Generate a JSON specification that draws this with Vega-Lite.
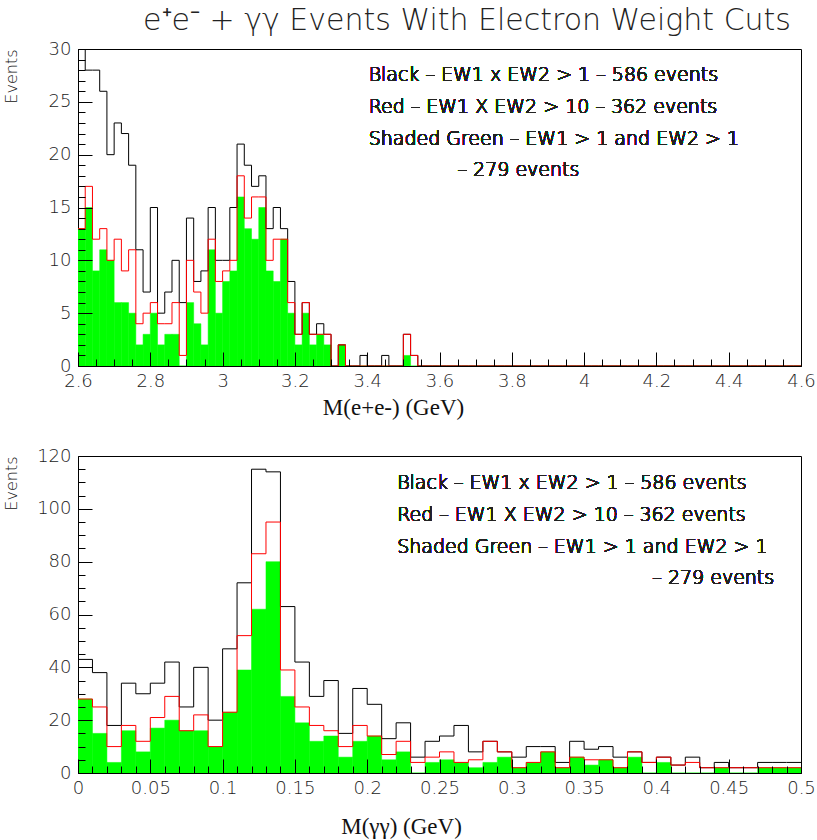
{
  "$schema": "https://vega.github.io/schema/vega-lite/v6.json",
  "background": "white",
  "padding": {"left": 2, "top": 5, "right": 0, "bottom": 0},
  "title": {"text": "e⁺e⁻ + γγ Events With Electron Weight Cuts", "font": "DejaVu Sans", "fontWeight": 200, "fontSize": 30, "color": "#222", "anchor": "end", "frame": "group", "dx": -10, "offset": 4},
  "config": {
    "view": {"stroke": "black", "strokeWidth": 1},
    "axis": {"grid": false, "zindex": 1, "domain": false, "ticks": true, "tickColor": "black", "tickWidth": 1, "tickOpacity": 1, "labelFont": "DejaVu Sans", "labelFontWeight": 200, "labelFontSize": 18, "labelColor": "#222", "labelOverlap": false, "labelFlush": false, "labelBound": false, "titleColor": "#111", "titleFontWeight": "normal"}
  },
  "datasets": {
    "ee": [
      {"x0":2.6,"x1":2.62,"black":30,"red":13,"green":13},
      {"x0":2.62,"x1":2.64,"black":28,"red":17,"green":15},
      {"x0":2.64,"x1":2.66,"black":28,"red":12,"green":9},
      {"x0":2.66,"x1":2.68,"black":26,"red":13,"green":11},
      {"x0":2.68,"x1":2.7,"black":20,"red":10,"green":10},
      {"x0":2.7,"x1":2.72,"black":23,"red":12,"green":6},
      {"x0":2.72,"x1":2.74,"black":22,"red":9,"green":6},
      {"x0":2.74,"x1":2.76,"black":19,"red":11,"green":5},
      {"x0":2.76,"x1":2.78,"black":11,"red":4,"green":2},
      {"x0":2.78,"x1":2.8,"black":7,"red":5,"green":3},
      {"x0":2.8,"x1":2.82,"black":15,"red":6,"green":5},
      {"x0":2.82,"x1":2.84,"black":5,"red":4,"green":2},
      {"x0":2.84,"x1":2.86,"black":7,"red":4,"green":3},
      {"x0":2.86,"x1":2.88,"black":10,"red":6,"green":3},
      {"x0":2.88,"x1":2.9,"black":6,"red":1,"green":0},
      {"x0":2.9,"x1":2.92,"black":14,"red":10,"green":6},
      {"x0":2.92,"x1":2.94,"black":8,"red":7,"green":4},
      {"x0":2.94,"x1":2.96,"black":9,"red":5,"green":2},
      {"x0":2.96,"x1":2.98,"black":15,"red":12,"green":11},
      {"x0":2.98,"x1":3.0,"black":10,"red":8,"green":5},
      {"x0":3.0,"x1":3.02,"black":10,"red":9,"green":8},
      {"x0":3.02,"x1":3.04,"black":15,"red":10,"green":9},
      {"x0":3.04,"x1":3.06,"black":21,"red":18,"green":16},
      {"x0":3.06,"x1":3.08,"black":19,"red":14,"green":13},
      {"x0":3.08,"x1":3.1,"black":17,"red":16,"green":12},
      {"x0":3.1,"x1":3.12,"black":18,"red":16,"green":15},
      {"x0":3.12,"x1":3.14,"black":13,"red":10,"green":9},
      {"x0":3.14,"x1":3.16,"black":15,"red":12,"green":8},
      {"x0":3.16,"x1":3.18,"black":13,"red":12,"green":12},
      {"x0":3.18,"x1":3.2,"black":8,"red":6,"green":5},
      {"x0":3.2,"x1":3.22,"black":3,"red":3,"green":2},
      {"x0":3.22,"x1":3.24,"black":6,"red":6,"green":5},
      {"x0":3.24,"x1":3.26,"black":3,"red":3,"green":2},
      {"x0":3.26,"x1":3.28,"black":4,"red":3,"green":3},
      {"x0":3.28,"x1":3.3,"black":3,"red":3,"green":2},
      {"x0":3.3,"x1":3.32,"black":0,"red":0,"green":0},
      {"x0":3.32,"x1":3.34,"black":2,"red":2,"green":2},
      {"x0":3.34,"x1":3.36,"black":0,"red":0,"green":0},
      {"x0":3.36,"x1":3.38,"black":0,"red":0,"green":0},
      {"x0":3.38,"x1":3.4,"black":1,"red":0,"green":0},
      {"x0":3.4,"x1":3.42,"black":0,"red":0,"green":0},
      {"x0":3.42,"x1":3.44,"black":0,"red":0,"green":0},
      {"x0":3.44,"x1":3.46,"black":1,"red":0,"green":0},
      {"x0":3.46,"x1":3.48,"black":0,"red":0,"green":0},
      {"x0":3.48,"x1":3.5,"black":0,"red":0,"green":0},
      {"x0":3.5,"x1":3.52,"black":3,"red":3,"green":1},
      {"x0":3.52,"x1":3.54,"black":1,"red":1,"green":0},
      {"x0":3.54,"x1":3.56,"black":0,"red":0,"green":0},
      {"x0":3.56,"x1":3.58,"black":0,"red":0,"green":0},
      {"x0":3.58,"x1":3.6,"black":0,"red":0,"green":0},
      {"x0":3.6,"x1":3.62,"black":0,"red":0,"green":0},
      {"x0":3.62,"x1":3.64,"black":0,"red":0,"green":0},
      {"x0":3.64,"x1":3.66,"black":0,"red":0,"green":0},
      {"x0":3.66,"x1":3.68,"black":0,"red":0,"green":0},
      {"x0":3.68,"x1":3.7,"black":0,"red":0,"green":0},
      {"x0":3.7,"x1":3.72,"black":0,"red":0,"green":0},
      {"x0":3.72,"x1":3.74,"black":0,"red":0,"green":0},
      {"x0":3.74,"x1":3.76,"black":0,"red":0,"green":0},
      {"x0":3.76,"x1":3.78,"black":0,"red":0,"green":0},
      {"x0":3.78,"x1":3.8,"black":0,"red":0,"green":0},
      {"x0":3.8,"x1":3.82,"black":0,"red":0,"green":0},
      {"x0":3.82,"x1":3.84,"black":0,"red":0,"green":0},
      {"x0":3.84,"x1":3.86,"black":0,"red":0,"green":0},
      {"x0":3.86,"x1":3.88,"black":0,"red":0,"green":0},
      {"x0":3.88,"x1":3.9,"black":0,"red":0,"green":0},
      {"x0":3.9,"x1":3.92,"black":0,"red":0,"green":0},
      {"x0":3.92,"x1":3.94,"black":0,"red":0,"green":0},
      {"x0":3.94,"x1":3.96,"black":0,"red":0,"green":0},
      {"x0":3.96,"x1":3.98,"black":0,"red":0,"green":0},
      {"x0":3.98,"x1":4.0,"black":0,"red":0,"green":0},
      {"x0":4.0,"x1":4.02,"black":0,"red":0,"green":0},
      {"x0":4.02,"x1":4.04,"black":0,"red":0,"green":0},
      {"x0":4.04,"x1":4.06,"black":0,"red":0,"green":0},
      {"x0":4.06,"x1":4.08,"black":0,"red":0,"green":0},
      {"x0":4.08,"x1":4.1,"black":0,"red":0,"green":0},
      {"x0":4.1,"x1":4.12,"black":0,"red":0,"green":0},
      {"x0":4.12,"x1":4.14,"black":0,"red":0,"green":0},
      {"x0":4.14,"x1":4.16,"black":0,"red":0,"green":0},
      {"x0":4.16,"x1":4.18,"black":0,"red":0,"green":0},
      {"x0":4.18,"x1":4.2,"black":0,"red":0,"green":0},
      {"x0":4.2,"x1":4.22,"black":0,"red":0,"green":0},
      {"x0":4.22,"x1":4.24,"black":0,"red":0,"green":0},
      {"x0":4.24,"x1":4.26,"black":0,"red":0,"green":0},
      {"x0":4.26,"x1":4.28,"black":0,"red":0,"green":0},
      {"x0":4.28,"x1":4.3,"black":0,"red":0,"green":0},
      {"x0":4.3,"x1":4.32,"black":0,"red":0,"green":0},
      {"x0":4.32,"x1":4.34,"black":0,"red":0,"green":0},
      {"x0":4.34,"x1":4.36,"black":0,"red":0,"green":0},
      {"x0":4.36,"x1":4.38,"black":0,"red":0,"green":0},
      {"x0":4.38,"x1":4.4,"black":0,"red":0,"green":0},
      {"x0":4.4,"x1":4.42,"black":0,"red":0,"green":0},
      {"x0":4.42,"x1":4.44,"black":0,"red":0,"green":0},
      {"x0":4.44,"x1":4.46,"black":0,"red":0,"green":0},
      {"x0":4.46,"x1":4.48,"black":0,"red":0,"green":0},
      {"x0":4.48,"x1":4.5,"black":0,"red":0,"green":0},
      {"x0":4.5,"x1":4.52,"black":0,"red":0,"green":0},
      {"x0":4.52,"x1":4.54,"black":0,"red":0,"green":0},
      {"x0":4.54,"x1":4.56,"black":0,"red":0,"green":0},
      {"x0":4.56,"x1":4.58,"black":0,"red":0,"green":0},
      {"x0":4.58,"x1":4.6,"black":0,"red":0,"green":0},
      {"x0":4.6,"black":0,"red":0,"green":0}
    ],
    "gg": [
      {"x0":0.0,"x1":0.01,"black":43,"red":28,"green":28},
      {"x0":0.01,"x1":0.02,"black":38,"red":25,"green":15},
      {"x0":0.02,"x1":0.03,"black":18,"red":10,"green":4},
      {"x0":0.03,"x1":0.04,"black":34,"red":18,"green":16},
      {"x0":0.04,"x1":0.05,"black":30,"red":12,"green":8},
      {"x0":0.05,"x1":0.06,"black":34,"red":21,"green":17},
      {"x0":0.06,"x1":0.07,"black":42,"red":29,"green":20},
      {"x0":0.07,"x1":0.08,"black":25,"red":16,"green":16},
      {"x0":0.08,"x1":0.09,"black":40,"red":22,"green":16},
      {"x0":0.09,"x1":0.1,"black":20,"red":10,"green":10},
      {"x0":0.1,"x1":0.11,"black":47,"red":23,"green":23},
      {"x0":0.11,"x1":0.12,"black":72,"red":52,"green":39},
      {"x0":0.12,"x1":0.13,"black":115,"red":83,"green":62},
      {"x0":0.13,"x1":0.14,"black":114,"red":95,"green":80},
      {"x0":0.14,"x1":0.15,"black":63,"red":39,"green":29},
      {"x0":0.15,"x1":0.16,"black":42,"red":25,"green":19},
      {"x0":0.16,"x1":0.17,"black":29,"red":18,"green":12},
      {"x0":0.17,"x1":0.18,"black":35,"red":16,"green":14},
      {"x0":0.18,"x1":0.19,"black":15,"red":10,"green":6},
      {"x0":0.19,"x1":0.2,"black":32,"red":18,"green":12},
      {"x0":0.2,"x1":0.21,"black":26,"red":14,"green":14},
      {"x0":0.21,"x1":0.22,"black":13,"red":7,"green":5},
      {"x0":0.22,"x1":0.23,"black":19,"red":12,"green":8},
      {"x0":0.23,"x1":0.24,"black":6,"red":4,"green":0},
      {"x0":0.24,"x1":0.25,"black":12,"red":6,"green":4},
      {"x0":0.25,"x1":0.26,"black":14,"red":8,"green":5},
      {"x0":0.26,"x1":0.27,"black":18,"red":4,"green":4},
      {"x0":0.27,"x1":0.28,"black":8,"red":5,"green":2},
      {"x0":0.28,"x1":0.29,"black":12,"red":12,"green":4},
      {"x0":0.29,"x1":0.3,"black":8,"red":8,"green":6},
      {"x0":0.3,"x1":0.31,"black":6,"red":2,"green":2},
      {"x0":0.31,"x1":0.32,"black":10,"red":4,"green":4},
      {"x0":0.32,"x1":0.33,"black":10,"red":8,"green":8},
      {"x0":0.33,"x1":0.34,"black":4,"red":2,"green":2},
      {"x0":0.34,"x1":0.35,"black":12,"red":6,"green":6},
      {"x0":0.35,"x1":0.36,"black":9,"red":5,"green":3},
      {"x0":0.36,"x1":0.37,"black":10,"red":5,"green":5},
      {"x0":0.37,"x1":0.38,"black":6,"red":2,"green":2},
      {"x0":0.38,"x1":0.39,"black":8,"red":8,"green":6},
      {"x0":0.39,"x1":0.4,"black":4,"red":4,"green":0},
      {"x0":0.4,"x1":0.41,"black":6,"red":6,"green":4},
      {"x0":0.41,"x1":0.42,"black":3,"red":3,"green":0},
      {"x0":0.42,"x1":0.43,"black":6,"red":4,"green":0},
      {"x0":0.43,"x1":0.44,"black":2,"red":2,"green":0},
      {"x0":0.44,"x1":0.45,"black":4,"red":2,"green":2},
      {"x0":0.45,"x1":0.46,"black":2,"red":2,"green":0},
      {"x0":0.46,"x1":0.47,"black":2,"red":2,"green":0},
      {"x0":0.47,"x1":0.48,"black":4,"red":2,"green":2},
      {"x0":0.48,"x1":0.49,"black":4,"red":2,"green":2},
      {"x0":0.49,"x1":0.5,"black":4,"red":2,"green":2},
      {"x0":0.5,"black":4,"red":2,"green":2}
    ]
  },
  "spacing": 90,
  "bounds": "flush",
  "vconcat": [
    {
      "width": 723,
      "height": 317,
      "data": {"name": "ee"},
      "resolve": {"axis": {"x": "independent", "y": "independent"}},
      "layer": [
        {
          "transform": [{"filter": "isValid(datum.x1)"}],
          "mark": {"type": "rect", "color": "#00ff00", "stroke": "#00ff00", "strokeWidth": 0.5, "clip": true},
          "encoding": {
            "x": {"field": "x0", "type": "quantitative",
              "scale": {"domain": [2.6, 4.6], "nice": false, "zero": false},
              "axis": {
                "orient": "bottom", "zindex": 1, "offset": -14, "ticks": true, "tickSize": 14, "labelPadding": 6,
                "title": "M(e+e-) (GeV)", "titleFont": "Liberation Serif", "titleFontSize": 23, "titleX": 315, "titleY": 62, "titleAlign": "center", "titleBaseline": "alphabetic",
                "values": [2.6,2.8,3.0,3.2,3.4,3.6,3.8,4.0,4.2,4.4,4.6],
                "format": "~g"
              }
            },
            "x2": {"field": "x1"},
            "y": {"field": "green", "type": "quantitative",
              "scale": {"domain": [0, 30], "nice": false},
              "axis": {
                "orient": "left", "zindex": 1, "offset": -14, "ticks": true, "tickSize": 14, "labelPadding": 7,
                "title": "Events", "titleFont": "DejaVu Sans", "titleFontWeight": 200, "titleFontSize": 16, "titleAngle": -90, "titleAlign": "right", "titleBaseline": "top", "titleX": -89, "titleY": 0,
                "values": [0,5,10,15,20,25,30]
              }
            },
            "y2": {"datum": 0}
          }
        },
        {
          "mark": {"type": "line", "interpolate": "step-after", "color": "black", "strokeWidth": 1, "clip": true},
          "encoding": {
            "x": {"field": "x0", "type": "quantitative",
              "axis": {"orient": "bottom", "zindex": 1, "offset": -7, "ticks": true, "tickSize": 7, "title": null, "labels": false,
                "values": [2.6,2.65,2.7,2.75,2.8,2.85,2.9,2.95,3.0,3.05,3.1,3.15,3.2,3.25,3.3,3.35,3.4,3.45,3.5,3.55,3.6,3.65,3.7,3.75,3.8,3.85,3.9,3.95,4.0,4.05,4.1,4.15,4.2,4.25,4.3,4.35,4.4,4.45,4.5,4.55,4.6]}},
            "y": {"field": "black", "type": "quantitative",
              "axis": {"orient": "left", "zindex": 1, "offset": -7, "ticks": true, "tickSize": 7, "title": null, "labels": false,
                "values": [0,1,2,3,4,5,6,7,8,9,10,11,12,13,14,15,16,17,18,19,20,21,22,23,24,25,26,27,28,29,30]}}
          }
        },
        {
          "mark": {"type": "line", "interpolate": "step-after", "color": "#ff0000", "strokeWidth": 1, "clip": true},
          "encoding": {
            "x": {"field": "x0", "type": "quantitative", "axis": null},
            "y": {"field": "red", "type": "quantitative", "axis": null}
          }
        },
        {
          "mark": {"type": "text", "text": ["Black – EW1 x EW2 > 1 – 586 events", "Red – EW1 X EW2 > 10 – 362 events", "Shaded Green – EW1 > 1 and EW2 > 1"], "font": "DejaVu Sans", "fontWeight": 200, "fontSize": 19, "lineHeight": 32, "align": "left", "baseline": "top", "color": "#222"},
          "encoding": {
            "x": {"datum": 3.404, "type": "quantitative", "axis": null},
            "y": {"datum": 28.36, "type": "quantitative", "axis": null}
          }
        },
        {
          "mark": {"type": "text", "text": "– 279 events", "font": "DejaVu Sans", "fontWeight": 200, "fontSize": 19, "align": "left", "baseline": "top", "color": "#222"},
          "encoding": {
            "x": {"datum": 3.65, "type": "quantitative", "axis": null},
            "y": {"datum": 19.38, "type": "quantitative", "axis": null}
          }
        }
      ]
    },
    {
      "width": 723,
      "height": 317,
      "data": {"name": "gg"},
      "resolve": {"axis": {"x": "independent", "y": "independent"}},
      "layer": [
        {
          "transform": [{"filter": "isValid(datum.x1)"}],
          "mark": {"type": "rect", "color": "#00ff00", "stroke": "#00ff00", "strokeWidth": 0.5, "clip": true},
          "encoding": {
            "x": {"field": "x0", "type": "quantitative",
              "scale": {"domain": [0, 0.5], "nice": false, "zero": false},
              "axis": {
                "orient": "bottom", "zindex": 1, "offset": -14, "ticks": true, "tickSize": 14, "labelPadding": 6,
                "title": "M(γγ) (GeV)", "titleFont": "Liberation Serif", "titleFontSize": 23, "titleX": 323, "titleY": 74, "titleAlign": "center", "titleBaseline": "alphabetic",
                "values": [0,0.05,0.1,0.15,0.2,0.25,0.3,0.35,0.4,0.45,0.5],
                "format": "~g"
              }
            },
            "x2": {"field": "x1"},
            "y": {"field": "green", "type": "quantitative",
              "scale": {"domain": [0, 120], "nice": false},
              "axis": {
                "orient": "left", "zindex": 1, "offset": -14, "ticks": true, "tickSize": 14, "labelPadding": 7,
                "title": "Events", "titleFont": "DejaVu Sans", "titleFontWeight": 200, "titleFontSize": 16, "titleAngle": -90, "titleAlign": "right", "titleBaseline": "top", "titleX": -89, "titleY": 0,
                "values": [0,20,40,60,80,100,120]
              }
            },
            "y2": {"datum": 0}
          }
        },
        {
          "mark": {"type": "line", "interpolate": "step-after", "color": "black", "strokeWidth": 1, "clip": true},
          "encoding": {
            "x": {"field": "x0", "type": "quantitative",
              "axis": {"orient": "bottom", "zindex": 1, "offset": -7, "ticks": true, "tickSize": 7, "title": null, "labels": false,
                "values": [0,0.01,0.02,0.03,0.04,0.05,0.06,0.07,0.08,0.09,0.1,0.11,0.12,0.13,0.14,0.15,0.16,0.17,0.18,0.19,0.2,0.21,0.22,0.23,0.24,0.25,0.26,0.27,0.28,0.29,0.3,0.31,0.32,0.33,0.34,0.35,0.36,0.37,0.38,0.39,0.4,0.41,0.42,0.43,0.44,0.45,0.46,0.47,0.48,0.49,0.5]}},
            "y": {"field": "black", "type": "quantitative",
              "axis": {"orient": "left", "zindex": 1, "offset": -7, "ticks": true, "tickSize": 7, "title": null, "labels": false,
                "values": [0,5,10,15,20,25,30,35,40,45,50,55,60,65,70,75,80,85,90,95,100,105,110,115,120]}}
          }
        },
        {
          "mark": {"type": "line", "interpolate": "step-after", "color": "#ff0000", "strokeWidth": 1, "clip": true},
          "encoding": {
            "x": {"field": "x0", "type": "quantitative", "axis": null},
            "y": {"field": "red", "type": "quantitative", "axis": null}
          }
        },
        {
          "mark": {"type": "text", "text": ["Black – EW1 x EW2 > 1 – 586 events", "Red – EW1 X EW2 > 10 – 362 events", "Shaded Green – EW1 > 1 and EW2 > 1"], "font": "DejaVu Sans", "fontWeight": 200, "fontSize": 19, "lineHeight": 32, "align": "left", "baseline": "top", "color": "#222"},
          "encoding": {
            "x": {"datum": 0.2207, "type": "quantitative", "axis": null},
            "y": {"datum": 113.1, "type": "quantitative", "axis": null}
          }
        },
        {
          "mark": {"type": "text", "text": "– 279 events", "font": "DejaVu Sans", "fontWeight": 200, "fontSize": 19, "align": "left", "baseline": "top", "color": "#222"},
          "encoding": {
            "x": {"datum": 0.3972, "type": "quantitative", "axis": null},
            "y": {"datum": 77.1, "type": "quantitative", "axis": null}
          }
        }
      ]
    }
  ]
}
